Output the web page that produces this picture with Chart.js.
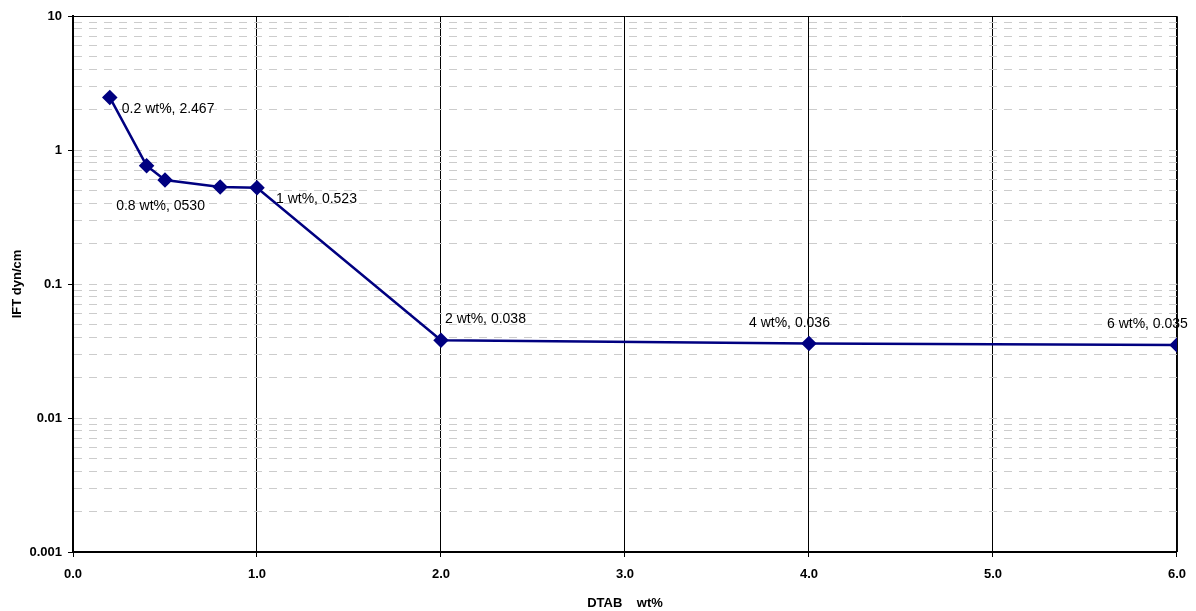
<!DOCTYPE html>
<html>
<head>
<meta charset="utf-8">
<title>IFT vs DTAB</title>
<script src="https://cdn.jsdelivr.net/npm/chart.js@4"></script>
<style>
  html, body { margin: 0; padding: 0; background: #fff; }
  #wrap { width: 1196px; height: 611px; }
</style>
</head>
<body>
<div id="wrap"><canvas id="ift" width="1196" height="611"></canvas></div>
<script>
// DTAB concentration (wt%) and interfacial tension (dyn/cm)
const dtab = [0.2, 0.4, 0.5, 0.8, 1.0, 2.0, 4.0, 6.0];
const ift = [2.467, 0.764, 0.597, 0.530, 0.523, 0.038, 0.036, 0.035];
const pointLabels = ['0.2 wt%, 2.467', null, null, '0.8 wt%, 0530', '1 wt%, 0.523', '2 wt%, 0.038', '4 wt%, 0.036', '6 wt%, 0.035'];

// y axis ticks: decades plus minor steps 2..9
const yDecades = [0.001, 0.01, 0.1, 1, 10];
const yDecadeLabels = ['0.001', '0.01', '0.1', '1', '10'];
const yMinorSteps = [2, 3, 4, 5, 6, 7, 8, 9];

const FONT = '"Liberation Sans", Arial, sans-serif';

// where each data label sits relative to its marker (left edge, middle)
const labelOffsets = [[12, 12], null, null, [-104, 19], [19, 11], [4, -21], [-60, -20], [-70, -21]];

const isDecade = v => yDecades.some(d => Math.abs(d - v) < d * 1e-6);

const framePlugin = {
  id: 'frame',
  beforeDatasetsDraw(chart) {
    const {ctx, chartArea: a} = chart;
    ctx.save();
    ctx.strokeStyle = '#000';
    ctx.lineWidth = 1;
    ctx.beginPath();
    ctx.moveTo(a.left, a.top + 0.5);
    ctx.lineTo(a.right + 0.5, a.top + 0.5);
    ctx.lineTo(a.right + 0.5, a.bottom);
    ctx.stroke();
    ctx.restore();
  }
};

const labelPlugin = {
  id: 'pointText',
  afterDatasetsDraw(chart) {
    const ctx = chart.ctx;
    const meta = chart.getDatasetMeta(0);
    ctx.save();
    ctx.font = '14px ' + FONT;
    ctx.fillStyle = '#000';
    ctx.textAlign = 'left';
    ctx.textBaseline = 'middle';
    meta.data.forEach((pt, i) => {
      if (!pointLabels[i]) return;
      const off = labelOffsets[i];
      ctx.fillText(pointLabels[i], pt.x + off[0], pt.y + off[1]);
    });
    ctx.restore();
  }
};

new Chart('ift', {
  type: 'line',
  data: {
    datasets: [{
      data: dtab.map((x, i) => ({x: x, y: ift[i]})),
      borderColor: '#000080',
      backgroundColor: '#000080',
      borderWidth: 2.5,
      pointStyle: 'rectRot',
      pointRadius: 6,
      pointBackgroundColor: '#000080',
      pointBorderColor: '#000080',
      tension: 0,
      fill: false
    }]
  },
  options: {
    responsive: false,
    animation: false,
    layout: {padding: {left: 0, right: 17, top: 16, bottom: 0}},
    plugins: {
      legend: {display: false},
      tooltip: {enabled: false}
    },
    scales: {
      x: {
        type: 'linear',
        min: 0,
        max: 6,
        afterFit: s => { s.height = 59; },
        ticks: {
          stepSize: 1,
          padding: 10,
          color: '#000',
          font: {family: FONT, size: 13, weight: 'bold'},
          callback: v => Number(v).toFixed(1)
        },
        grid: {color: '#000', lineWidth: 1, tickLength: 5, tickColor: '#000'},
        border: {color: '#000', width: 2},
        title: {
          display: true,
          text: 'DTAB    wt%',
          color: '#000',
          font: {family: FONT, size: 13, weight: 'bold'},
          padding: {top: 0, bottom: 0}
        }
      },
      y: {
        type: 'logarithmic',
        min: 0.001,
        max: 10,
        afterFit: s => { s.width = 73; },
        afterBuildTicks: s => {
          const vals = [];
          yDecades.forEach(d => {
            vals.push(d);
            if (d < 10) yMinorSteps.forEach(m => vals.push(d * m));
          });
          s.ticks = vals.map(v => ({value: v, major: isDecade(v)}));
        },
        ticks: {
          autoSkip: false,
          padding: 6,
          color: '#000',
          font: {family: FONT, size: 13, weight: 'bold'},
          callback: v => {
            const k = yDecades.findIndex(d => Math.abs(d - v) < d * 1e-6);
            return k >= 0 ? yDecadeLabels[k] : '';
          }
        },
        grid: {
          color: '#cccccc',
          lineWidth: 1,
          tickLength: 5,
          tickColor: c => (c.tick && isDecade(c.tick.value)) ? '#000' : 'rgba(0,0,0,0)'
        },
        border: {color: '#000', width: 2, dash: [8, 7]},
        title: {
          display: true,
          text: 'IFT dyn/cm',
          color: '#000',
          font: {family: FONT, size: 13, weight: 'bold'},
          padding: {top: 10, bottom: 0}
        }
      }
    }
  },
  plugins: [framePlugin, labelPlugin]
});
</script>
</body>
</html>
